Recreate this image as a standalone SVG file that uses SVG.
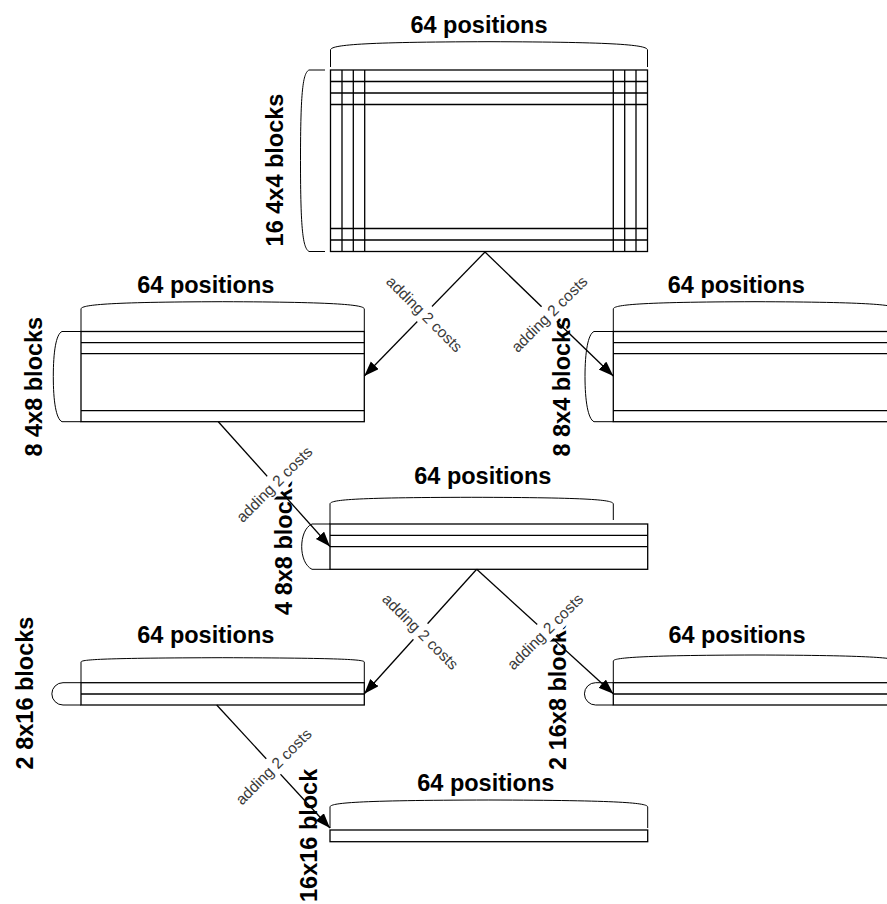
<svg xmlns="http://www.w3.org/2000/svg" width="887" height="904" viewBox="0 0 887 904">
<style>
.blk{fill:none;stroke:#000;stroke-width:1.3}
.ln{stroke:#000;stroke-width:1.3}
.br{fill:none;stroke:#000;stroke-width:1}
.pos{font-family:"Liberation Sans",Arial,sans-serif;font-weight:bold;font-size:23.5px;text-anchor:middle;fill:#000}
.cnt{font-family:"Liberation Sans",Arial,sans-serif;font-weight:bold;font-size:23.5px;text-anchor:middle;fill:#000}
.lbl{font-family:"Liberation Sans",Arial,sans-serif;font-size:15.5px;text-anchor:middle;dominant-baseline:central;fill:#3a3a3a}
.lbg{fill:#fff;stroke:none}
.conn{fill:none;stroke:#000;stroke-width:1.3;marker-end:url(#arr)}
</style>
<defs>
<marker id="arr" markerUnits="userSpaceOnUse" markerWidth="16" markerHeight="12" refX="15" refY="5.5" orient="auto">
<path d="M0,0 L15,5.5 L0,11 z" fill="#000"/>
</marker>
</defs>
<rect width="887" height="904" fill="#fff"/>

<g id="node-16x4x4">
<text class="pos" x="479" y="32.5">64 positions</text>
<path class="br" d="M330.5,67 V50 C330.5,45 360,42 489,41.7 C618,42 647.5,45 647.5,50 V67"/>
<path class="br" d="M325,70 H309 C303,73 300.5,90 300.5,160.5 C300.5,231 303,248 309,251.5 H325"/>
<rect class="blk" x="330.5" y="70" width="317" height="181.5"/>
<path class="ln" d="M330.5,81.5 H647.5 M330.5,93 H647.5 M330.5,104.5 H647.5 M330.5,228.5 H647.5 M330.5,240 H647.5 M342,70 V251.5 M353.3,70 V251.5 M364.7,70 V251.5 M613.3,70 V251.5 M624.7,70 V251.5 M636,70 V251.5"/>
<text class="cnt" transform="translate(283,170) rotate(-90)">16 4x4 blocks</text>
</g>

<g id="node-8x4x8">
<text class="pos" x="205.8" y="292.5">64 positions</text>
<path class="br" d="M81,331 V309 C81,305 105,302 222.7,301.7 C340,302 364.3,305 364.3,309 V331"/>
<path class="br" d="M81,331.5 H62 C56,334 53.3,352 53.3,376.5 C53.3,401 56,419 62,421.7 H81"/>
<rect class="blk" x="81" y="331.5" width="283.3" height="90.2"/>
<path class="ln" d="M81,342.7 H364.3 M81,353.7 H364.3 M81,410.7 H364.3"/>
<text class="cnt" transform="translate(41.7,386.7) rotate(-90)">8 4x8 blocks</text>
</g>

<g id="node-4x8x8">
<text class="pos" x="482.8" y="484.3">64 positions</text>
<path class="br" d="M330,524 V504 C330,500 350,497.5 471.7,497.3 C593,497.5 613.3,500 613.3,504 V520"/>
<path class="br" d="M330,524 H312 C305,527 301.7,537 301.7,546.7 C301.7,556 305,566 312,569.3 H330"/>
<rect class="blk" x="330" y="524" width="317.7" height="45.3"/>
<path class="ln" d="M330,535.3 H647.7 M330,546.7 H647.7"/>
<text class="cnt" transform="translate(291.7,545) rotate(-90)">4 8x8 blocks</text>
</g>

<g id="node-2x8x16">
<text class="pos" x="205.8" y="643">64 positions</text>
<path class="br" d="M81,682.7 V662 C81,659.5 105,658 222.7,657.7 C340,658 364.3,659.5 364.3,662 V682.7"/>
<path class="br" d="M81,682.7 H63 A11.15,11.15 0 0 0 63,705 H81"/>
<rect class="blk" x="81" y="682.7" width="283.3" height="22.3"/>
<path class="ln" d="M81,694 H364.3"/>
<text class="cnt" transform="translate(33.3,693) rotate(-90)">2 8x16 blocks</text>
</g>

<g id="node-2x16x8">
<text class="pos" x="737" y="643">64 positions</text>
<path class="br" d="M613.3,682.7 V661 C613.3,658 637,655.3 755,655 C872,655.3 896.6,658 896.6,661 V682.7"/>
<path class="br" d="M613.3,682.7 H595.6 A11.15,11.15 0 0 0 595.6,705 H613.3"/>
<rect class="blk" x="613.3" y="682.7" width="283.3" height="22.3"/>
<path class="ln" d="M613.3,694 H896.6"/>
<text class="cnt" transform="translate(565.5,693.5) rotate(-90)">2 16x8 blocks</text>
</g>

<g id="connectors">
<path class="conn" d="M485,252 L364.3,376"/>
<path class="conn" d="M485,252 L613.3,376"/>
<path class="conn" d="M218.3,421.7 L330,546.5"/>
<path class="conn" d="M476.7,569.3 L364.3,693.7"/>
<path class="conn" d="M476.7,569.3 L613.3,693.7"/>
<path class="conn" d="M216.7,705 L330,828"/>
<g transform="translate(424.6,314) rotate(45)"><rect class="lbg" x="-52" y="-10.5" width="104" height="21"/><text class="lbl">adding 2 costs</text></g>
<g transform="translate(549.2,314) rotate(-45)"><rect class="lbg" x="-52" y="-10.5" width="104" height="21"/><text class="lbl">adding 2 costs</text></g>
<g transform="translate(274.2,484.1) rotate(-45)"><rect class="lbg" x="-52" y="-10.5" width="104" height="21"/><text class="lbl">adding 2 costs</text></g>
<g transform="translate(420.5,631.5) rotate(45)"><rect class="lbg" x="-52" y="-10.5" width="104" height="21"/><text class="lbl">adding 2 costs</text></g>
<g transform="translate(545,631.5) rotate(-45)"><rect class="lbg" x="-52" y="-10.5" width="104" height="21"/><text class="lbl">adding 2 costs</text></g>
<g transform="translate(273.4,766.5) rotate(-45)"><rect class="lbg" x="-52" y="-10.5" width="104" height="21"/><text class="lbl">adding 2 costs</text></g>
</g>

<g id="node-8x8x4">
<text class="pos" x="736.3" y="292.5">64 positions</text>
<path class="br" d="M613.3,331 V309 C613.3,305 637,302 755,301.7 C872,302 896.6,305 896.6,309 V331"/>
<path class="br" d="M613.3,331.5 H594 C588,334 585,352 585,376.5 C585,401 588,419 594,421.7 H613.3"/>
<rect class="blk" x="613.3" y="331.5" width="283.3" height="90.2"/>
<path class="ln" d="M613.3,342.7 H896.6 M613.3,353.7 H896.6 M613.3,410.7 H896.6"/>
<text class="cnt" transform="translate(570,386.7) rotate(-90)">8 8x4 blocks</text>
</g>

<g id="node-16x16">
<text class="pos" x="485.8" y="791">64 positions</text>
<path class="br" d="M330,828 V807 C330,803 355,800.3 488.8,800 C622,800.3 647.7,803 647.7,807 V828"/>
<rect class="blk" x="330" y="830" width="317.7" height="11.7"/>
<text class="cnt" style="text-anchor:start" transform="translate(316.7,902) rotate(-90)">16x16 block</text>
</g>
</svg>
